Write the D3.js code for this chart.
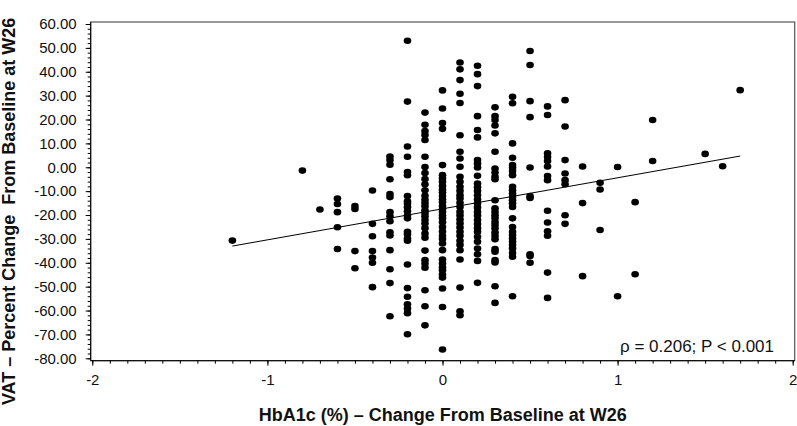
<!DOCTYPE html>
<html>
<head>
<meta charset="utf-8">
<script src="https://cdn.jsdelivr.net/npm/d3@7"></script>
<style>
  body { margin: 0; background: #fff; }
  svg { display: block; font-family: "Liberation Sans", Arial, sans-serif; }
</style>
</head>
<body>
<svg id="chart"></svg>
<script>
const width = 797;
const height = 426;

// HbA1c change columns (%) and VAT % change read per column
const hba1cLevels = [-1.2, -0.8, -0.7, -0.6, -0.5, -0.4, -0.3, -0.2, -0.1, 0, 0.1, 0.2, 0.3, 0.4, 0.5, 0.6, 0.7, 0.8, 0.9, 1.0, 1.1, 1.2, 1.5, 1.6, 1.7];
const vatByLevel = [
  [-30.7],
  [-1.4],
  [-17.7],
  [-13.1, -15.4, -18.8, -25.1, -34.2],
  [-16.2, -17.5, -35.1, -42.3],
  [-9.7, -23.7, -28.9, -35.1, -37.8, -40.0, -50.2],
  [4.5, 3.0, 1.1, -5.0, -11.2, -12.5, -18.8, -20.5, -22.6, -27.2, -28.6, -34.7, -42.7, -48.5, -62.4],
  [53.0, 27.5, 8.7, 4.4, -2.0, -3.3, -12.0, -14.2, -15.3, -16.7, -18.4, -20.2, -21.4, -27.0, -28.1, -29.8, -30.8, -40.7, -50.6, -54.2, -57.4, -59.2, -61.1, -69.9],
  [22.9, 17.8, 15.2, 13.5, 11.4, 4.4, 0.1, -2.4, -4.9, -7.1, -9.6, -11.9, -13.6, -15.0, -16.3, -18.0, -19.2, -20.5, -22.1, -23.6, -25.5, -27.8, -29.5, -34.9, -38.9, -40.4, -42.1, -51.5, -58.2, -66.2],
  [32.2, 24.6, 18.5, 16.1, 0.9, -3.3, -4.7, -6.1, -7.8, -9.3, -10.5, -12.0, -13.5, -14.7, -16.2, -17.5, -18.7, -20.2, -21.4, -23.0, -25.0, -26.9, -28.7, -30.0, -31.9, -34.7, -38.6, -40.3, -42.0, -43.1, -44.9, -46.2, -50.8, -58.5, -76.3],
  [43.9, 41.0, 36.5, 30.8, 26.9, 13.4, 6.5, 3.7, 0.2, -4.0, -6.1, -8.2, -9.9, -11.7, -13.1, -14.9, -16.6, -18.7, -20.2, -21.9, -23.5, -25.2, -27.0, -28.7, -30.8, -32.5, -34.7, -38.6, -50.4, -60.3, -62.0],
  [42.5, 39.0, 34.0, 21.4, 15.6, 12.5, 3.0, 1.6, -0.1, -3.6, -6.8, -8.4, -9.9, -11.7, -13.5, -15.1, -16.8, -18.7, -20.2, -22.1, -23.8, -25.5, -27.0, -29.1, -31.2, -34.0, -36.4, -39.2, -48.4],
  [25.1, 21.4, 19.8, 17.5, 14.2, 6.5, -0.5, -2.2, -4.0, -5.0, -13.8, -17.2, -18.7, -20.1, -21.4, -22.9, -24.2, -25.6, -27.3, -28.7, -30.1, -34.3, -35.4, -38.9, -39.9, -49.8, -56.8],
  [29.5, 26.8, 10.0, 4.0, 0.9, -0.2, -1.6, -3.3, -8.2, -9.6, -11.0, -12.4, -13.8, -15.1, -16.6, -21.4, -25.0, -27.0, -28.4, -29.8, -31.2, -32.6, -34.0, -35.9, -37.5, -54.0],
  [48.7, 42.8, 27.7, 21.0, -0.1, -12.1, -12.9, -36.4, -37.2, -40.0],
  [25.5, 21.9, 5.9, 4.3, 2.6, 0.3, -3.7, -5.4, -18.2, -23.1, -26.8, -28.7, -44.1, -54.7],
  [28.1, 17.1, 3.0, -2.6, -5.4, -7.1, -20.1, -23.7],
  [0.3, -15.0, -45.6],
  [-6.5, -9.3, -26.3],
  [0.1, -54.0],
  [-14.6, -44.8],
  [19.8, 2.6],
  [5.6],
  [0.4],
  [32.3]
];

// fitted line end points
const fitX = [-1.2, 1.7];
const fitY = [-33.0, 4.7];

const yTicks = [-80, -70, -60, -50, -40, -30, -20, -10, 0, 10, 20, 30, 40, 50, 60];
const xTicks = [-2, -1, 0, 1, 2];
const statText = 'ρ = 0.206; P < 0.001';
const xTitle = 'HbA1c (%) – Change From Baseline at W26';
const yTitle = 'VAT – Percent Change  From Baseline at W26';

const frame = {left: 90.7, right: 794.7, top: 22, bottom: 360.7};

const svg = d3.select('#chart')
  .attr('width', width)
  .attr('height', height);

const x = d3.scaleLinear().domain([-2, 2]).range([92.3, 792.7]);
const y = d3.scaleLinear().domain([-80, 60]).range([358.3, 24]);

const points = [];
hba1cLevels.forEach((lv, i) => {
  vatByLevel[i].forEach(v => points.push({x: lv, y: v}));
});

// frame
svg.append('rect')
  .attr('x', frame.left)
  .attr('y', frame.top)
  .attr('width', frame.right - frame.left)
  .attr('height', frame.bottom - frame.top)
  .attr('fill', 'none')
  .attr('stroke', '#555')
  .attr('stroke-width', 1.2);

// y axis: minor then major
svg.append('g')
  .attr('transform', `translate(${frame.left},0)`)
  .call(d3.axisLeft(y).tickValues(d3.range(-80, 61, 2)).tickSize(3).tickFormat(''))
  .call(g => g.select('.domain').remove());

const yAxis = svg.append('g')
  .attr('transform', `translate(${frame.left},0)`)
  .call(d3.axisLeft(y).tickValues(yTicks).tickSize(5).tickPadding(9)
    .tickFormat(d => d.toFixed(2)));
yAxis.select('.domain').attr('d', `M0,${frame.top}V${frame.bottom}`).attr('stroke', '#000');
yAxis.selectAll('text').attr('font-size', 15).attr('font-family', '"Liberation Sans", Arial, sans-serif').attr('fill', '#111');

// x axis
svg.append('g')
  .attr('transform', `translate(0,${frame.bottom})`)
  .call(d3.axisBottom(x).tickValues(d3.range(-20, 21).map(d => d / 10)).tickSize(3).tickFormat(''))
  .call(g => g.select('.domain').remove());

const xAxis = svg.append('g')
  .attr('transform', `translate(0,${frame.bottom})`)
  .call(d3.axisBottom(x).tickValues(xTicks).tickSize(5).tickPadding(9).tickFormat(d => String(d)));
xAxis.select('.domain').attr('d', `M${frame.left},0H${frame.right}`).attr('stroke', '#000');
xAxis.selectAll('text').attr('font-size', 15).attr('font-family', '"Liberation Sans", Arial, sans-serif').attr('fill', '#111');

// regression line
svg.append('path')
  .datum(fitX.map((d, i) => ({x: d, y: fitY[i]})))
  .attr('fill', 'none')
  .attr('stroke', '#000')
  .attr('stroke-width', 1)
  .attr('d', d3.line().x(d => x(d.x)).y(d => y(d.y)));

// points
svg.append('g')
  .selectAll('ellipse')
  .data(points)
  .enter()
  .append('ellipse')
  .attr('cx', d => x(d.x))
  .attr('cy', d => y(d.y))
  .attr('rx', 3.8)
  .attr('ry', 3.3)
  .attr('fill', '#000');

// stat text
svg.append('text')
  .attr('x', 774)
  .attr('y', 352)
  .attr('text-anchor', 'end')
  .attr('font-size', 17)
  .attr('fill', '#111')
  .text(statText);

// axis titles
svg.append('text')
  .attr('x', (frame.left + frame.right) / 2)
  .attr('y', 421)
  .attr('text-anchor', 'middle')
  .attr('font-size', 18)
  .attr('font-weight', 'bold')
  .attr('fill', '#111')
  .text(xTitle);

svg.append('text')
  .attr('transform', `translate(15,${(frame.top + frame.bottom) / 2 + 20}) rotate(-90)`)
  .attr('text-anchor', 'middle')
  .attr('font-size', 18)
  .attr('font-weight', 'bold')
  .attr('fill', '#111')
  .attr('xml:space', 'preserve')
  .style('white-space', 'pre')
  .text(yTitle);
</script>
</body>
</html>
